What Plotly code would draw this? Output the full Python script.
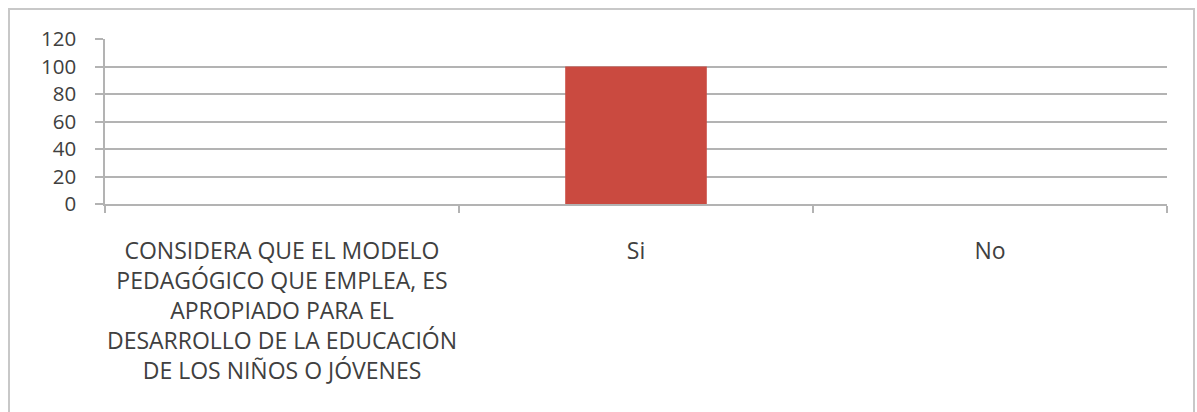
import plotly.graph_objects as go

# Survey question and answer categories
categories = [
    "CONSIDERA QUE EL MODELO<br>PEDAGÓGICO QUE EMPLEA, ES<br>APROPIADO PARA EL<br>DESARROLLO DE LA EDUCACIÓN<br>DE LOS NIÑOS O JÓVENES",
    "Si",
    "No",
]
values = [None, 100, 0]

y_ticks = [0, 20, 40, 60, 80, 100, 120]

FONT = "Open Sans"
TEXT = "#404040"
GRID = "#b3b3b3"

fig = go.Figure(
    go.Bar(
        x=categories,
        y=values,
        width=0.4,
        marker=dict(color="#ca4a40", line=dict(width=0)),
        hoverinfo="skip",
    )
)

fig.update_layout(
    width=1197,
    height=412,
    margin=dict(l=105, r=30, t=39, b=208),
    paper_bgcolor="white",
    plot_bgcolor="white",
    showlegend=False,
    font=dict(family=FONT, size=20, color=TEXT),
    bargap=0.6,
)

fig.update_yaxes(
    range=[0, 120],
    tickvals=y_ticks,
    ticktext=[str(v) for v in y_ticks],
    showgrid=True,
    gridcolor=GRID,
    gridwidth=1.5,
    zeroline=False,
    showline=True,
    linecolor=GRID,
    linewidth=1.5,
    ticks="outside",
    ticklen=8,
    tickcolor=GRID,
    tickwidth=1.5,
    tickfont=dict(size=20.5, color=TEXT, family=FONT),
    ticklabelstandoff=15,
    fixedrange=True,
)

fig.update_xaxes(
    type="category",
    showgrid=False,
    showline=True,
    linecolor=GRID,
    linewidth=1.5,
    ticks="outside",
    tickson="boundaries",
    ticklen=7,
    tickcolor=GRID,
    tickwidth=1.5,
    tickfont=dict(size=23, color=TEXT, family=FONT),
    tickangle=0,
    ticklabelstandoff=26,
    fixedrange=True,
)

# Chart frame (runs past the bottom edge of the page)
fig.add_shape(
    type="rect",
    xref="paper", yref="paper",
    x0=-96 / 1062, x1=1089 / 1062,
    y0=-220 / 165, y1=1 + 30 / 165,
    line=dict(color="#c8c8c8", width=2),
    fillcolor="rgba(0,0,0,0)",
    layer="below",
)

fig.write_html("out.html")
